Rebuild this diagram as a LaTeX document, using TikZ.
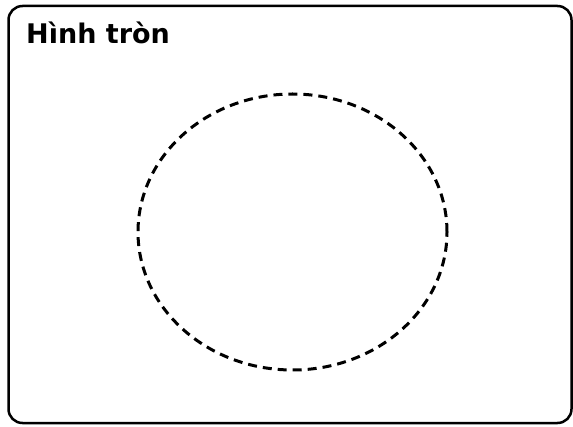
\documentclass[tikz,border=0pt]{standalone}
\usepackage{fontspec}
\setmainfont{DejaVu Sans}
\usetikzlibrary{shapes.geometric}
\begin{document}
\begin{tikzpicture}[x=1pt,y=1pt,
  frame/.style={draw=black,line width=2.5pt,rounded corners=14pt},
  circ/.style={draw=black,line width=3pt,dash pattern=on 9pt off 6pt},
  title/.style={anchor=base west,inner sep=0pt,font=\fontsize{27}{32}\selectfont\bfseries}]
\useasboundingbox (0,0) rectangle (573,426);
\node[frame,minimum width=563pt,minimum height=417pt,inner sep=0pt] (box) at (290,426-214.5) {};
\node[title] (t) at (26,426-44) {Hình tròn};
\node[circ,ellipse,minimum width=309pt,minimum height=276pt,inner sep=0pt] (c) at (292.5,426-232) {};
\end{tikzpicture}
\end{document}
